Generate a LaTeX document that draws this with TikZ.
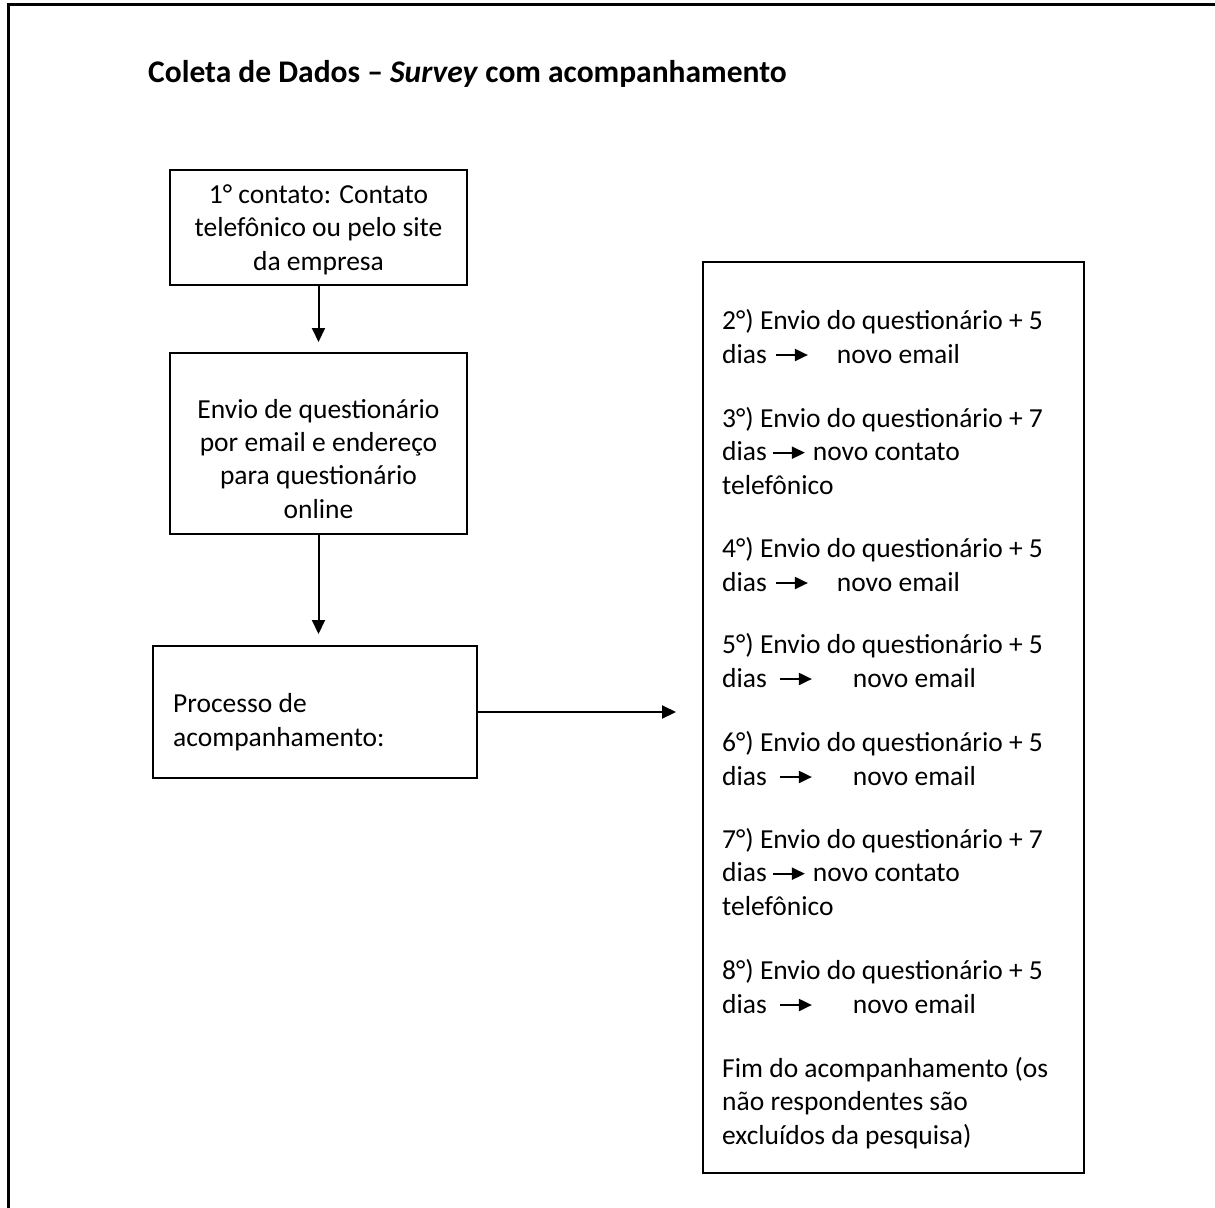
\documentclass[tikz,border=0pt]{standalone}
\usepackage{fontspec}
\setmainfont{Carlito}
\usetikzlibrary{arrows.meta}
\newcommand{\txtarr}[2]{\hspace*{#1}\tikz[baseline=0pt]\draw[line width=2pt,-{Triangle[length=13pt,width=12pt]}] (0pt,8pt) -- (32pt,8pt);\hspace*{#2}}
\begin{document}
\begin{tikzpicture}[x=1pt,y=-1pt,
  boxstyle/.style={draw,line width=2pt,rectangle,inner sep=0pt},
  txt/.style={inner sep=0pt,font=\fontsize{27.5}{33.3}\selectfont},
  conn/.style={line width=2pt,-{Triangle[length=14pt,width=13pt]}}]
\useasboundingbox (0,0) rectangle (1215,1207);
% outer frame (partial)
\draw[line width=3pt] (8,1210) -- (8,5) -- (1218,5);
% title
\node[txt,anchor=base west,font=\fontsize{31.5}{37}\selectfont\bfseries] (title) at (148,82) {Coleta de Dados – \textit{Survey} com acompanhamento};
% boxes
\node[boxstyle,minimum width=297pt,minimum height=115pt] (b1) at (318.5,227.5) {};
\node[boxstyle,minimum width=297pt,minimum height=181pt] (b2) at (318.5,443.5) {};
\node[boxstyle,minimum width=324pt,minimum height=132pt] (b3) at (315,712) {};
\node[boxstyle,minimum width=381pt,minimum height=911pt] (b4) at (893.5,717.5) {};
% box texts (anchor = baseline of last line)
\node[txt,anchor=base,align=center] (t1) at (318.5,270) {1° contato: Contato\\telefônico ou pelo site\\da empresa};
\node[txt,anchor=base,align=center] (t2) at (318.5,518) {Envio de questionário\\por email e endereço\\para questionário\\online};
\node[txt,anchor=base west,align=left] (t3) at (173,746) {Processo de\\acompanhamento:};
% list texts
\node[txt,anchor=base west,align=left] (p2) at (722,363) {2°) Envio do questionário + 5\\dias\txtarr{8pt}{28pt}novo email};
\node[txt,anchor=base west,align=left] (p3) at (722,494) {3°) Envio do questionário + 7\\dias\txtarr{5pt}{7pt}novo contato\\telefônico};
\node[txt,anchor=base west,align=left] (p4) at (722,591) {4°) Envio do questionário + 5\\dias\txtarr{8pt}{28pt}novo email};
\node[txt,anchor=base west,align=left] (p5) at (722,687) {5°) Envio do questionário + 5\\dias\txtarr{12pt}{40pt}novo email};
\node[txt,anchor=base west,align=left] (p6) at (722,785) {6°) Envio do questionário + 5\\dias\txtarr{12pt}{40pt}novo email};
\node[txt,anchor=base west,align=left] (p7) at (722,915) {7°) Envio do questionário + 7\\dias\txtarr{5pt}{7pt}novo contato\\telefônico};
\node[txt,anchor=base west,align=left] (p8) at (722,1013) {8°) Envio do questionário + 5\\dias\txtarr{12pt}{40pt}novo email};
\node[txt,anchor=base west,align=left] (p9) at (722,1144) {Fim do acompanhamento (os\\não respondentes são\\excluídos da pesquisa)};
% connectors
\draw[conn,shorten >=10pt] (b1.south) -- (b2.north);
\draw[conn,shorten >=11pt] (b2.south) -- (b2.south |- b3.north);
\draw[conn,shorten >=26pt] (b3.east) -- (b3.east -| b4.west);
\end{tikzpicture}
\end{document}
